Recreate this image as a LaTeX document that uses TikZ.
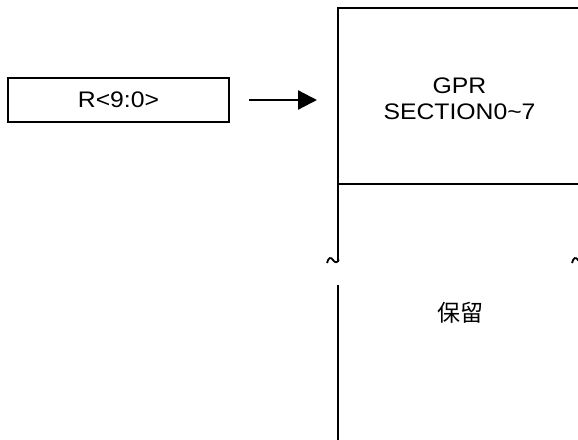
\documentclass[tikz,border=0pt]{standalone}
\usepackage{fontspec}
\setmainfont[FakeStretch=1.1]{Liberation Sans}
\newfontfamily\cjkfont{Noto Sans CJK SC}
\usetikzlibrary{arrows.meta}
\begin{document}
\begin{tikzpicture}[x=1pt,y=-1pt,
  line/.style={line width=2.2pt,line cap=butt},
  lbl/.style={font=\fontsize{22.5}{26}\selectfont,align=center,inner sep=0pt},
  regbox/.style={draw,line width=2.2pt,minimum width=221pt,minimum height=44pt,inner sep=0pt}]
\useasboundingbox (0,0) rectangle (578,439);
\clip (0,0) rectangle (578,439);
% register box
\node[regbox,lbl] (reg) at (118.5,100) {R<9:0>};
\coordinate (a1) at (249,100);
\coordinate (a2) at (317,100);
\draw[line,-{Triangle[length=19pt,width=19pt]}] (a1) -- (a2);
% memory map
\coordinate (tl) at (338,8);
\coordinate (tr) at (590,8);
\coordinate (ml) at (338,184);
\coordinate (mr) at (590,184);
\coordinate (b1) at (338,262);
\coordinate (b2) at (338,285);
\coordinate (bl) at (338,445);
\draw[line] (tr) -- (tl) -- (b1);
\draw[line] (ml) -- (mr);
\draw[line] (b2) -- (bl);
% break marks
\draw[line width=1.8pt] (327,263) .. controls (328.5,257) and (331,257) .. (333,260) .. controls (335,263) and (337.5,263) .. (338.8,259.5);
\draw[line width=1.8pt] (572,263) .. controls (573.5,257) and (576,257) .. (578,260) .. controls (580,263) and (582.5,263) .. (584,259.5);
% labels
\node[lbl] (gpr) at (459.5,98.5) {GPR\\SECTION0\textasciitilde7};
\node[lbl,font=\cjkfont\fontsize{23}{26}\selectfont] (rsv) at (460,313) {保留};
\end{tikzpicture}
\end{document}
